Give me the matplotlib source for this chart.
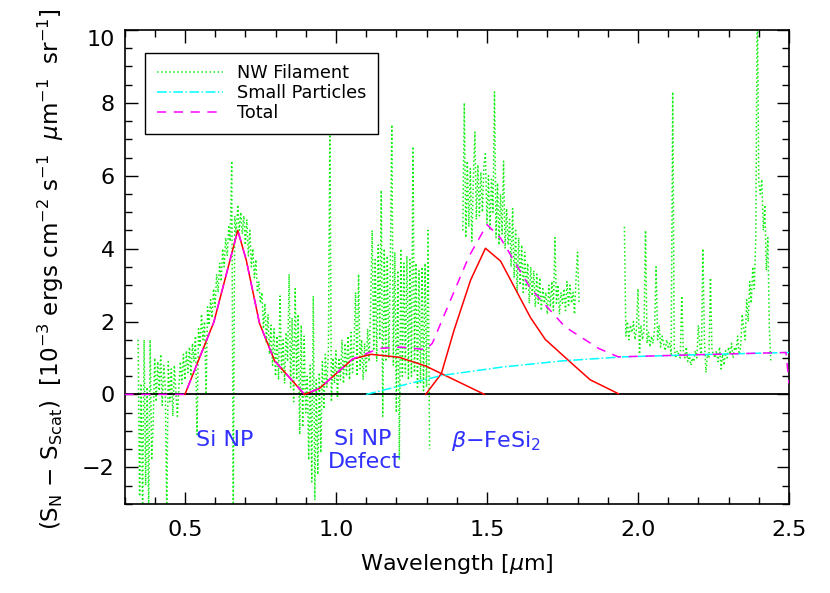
import numpy as np
import matplotlib
matplotlib.use('Agg')
import matplotlib.pyplot as plt
from matplotlib.ticker import MultipleLocator, FormatStrFormatter

# ── NW filament spectrum (three pieces, gaps at the water bands) ─────────────
nw_x1_start, nw_step = 0.345, 0.005
nw_y1 = [
    1.5, -2.8, 0.3, -3.2, 1.5, -2.5, 0.2, -3.1, 1.5, -1.8,
    -0.8, 1.0, -0.2, 0.9, 0.1, 1.1, -0.3, 0.8, 0.2, -3.2,
    0.9, -0.2, 0.7, -0.6, 0.8, 0.1, -0.6, 0.2, 0.9, 0.3,
    1.1, 0.4, 1.2, 0.6, 1.3, 0.5, 1.4, 0.9, 1.6, -1.1,
    1.8, 1.3, 2.2, 1.5, 2.0, 0.0, 2.4, 1.9, 2.6, 2.1,
    2.9, 2.4, 3.3, 2.8, 3.6, 3.1, 4.0, 3.5, 4.3, 3.8,
    4.6, 4.2, 6.4, -3.2, 4.9, 4.4, 5.2, 4.5, 5.0, 4.4,
    4.9, 4.1, 4.8, 3.8, 4.5, 3.5, 4.0, 3.2, 3.7, 2.8,
    3.1, 2.5, 2.8, 1.8, 2.5, 1.4, 2.2, 1.1, 1.9, 0.8,
    1.8, 0.5, 1.6, 0.4, 2.7, 0.6, 1.5, 0.3, 1.7, 0.9,
    3.3, 0.2, 2.1, -0.2, 2.9, 0.4, 2.2, -1.1, 1.9, -0.9,
    1.6, -0.5, 0.5, -1.8, 0.8, -2.4, 2.7, -2.9, 0.4, -2.2,
    0.6, -1.6, 0.9, -0.4, 1.1, 0.2, 1.2, 7.3, -0.2, 1.0,
    0.3, 1.2, -0.1, 1.0, 0.4, 1.5, 0.3, 1.4, 0.5, 1.6,
    0.4, 1.7, 0.6, 1.4, 2.8, 0.5, 3.3, 0.7, 1.5, 0.4,
    1.4, 0.6, 1.8, 0.9, 2.5, 4.5, 1.2, 3.7, 0.9, 4.1,
    1.5, 5.6, -0.6, 4.0, 0.9, 3.8, 1.0, 3.5, 7.4, 0.8,
    3.9, -0.5, 3.4, -1.8, 4.0, 0.5, 3.6, 0.6, 3.8, 0.4,
    3.7, 0.5, 6.8, 0.6, 3.6, 0.2, 3.4, 0.3, 3.5, 0.1,
    3.6, 0.2, 4.5, -1.5,
]
nw_x2_start = 1.420
nw_y2 = [
    4.5, 8.0, 4.3, 6.4, 4.6, 6.2, 4.2, 5.9, 7.2, 4.8,
    6.3, 4.9, 6.1, 5.0, 6.3, 6.6, 4.7, 6.0, 4.5, 5.9,
    5.0, 8.3, 4.3, 5.8, 4.1, 5.5, 4.4, 6.4, 4.0, 5.1,
    4.1, 4.8, 3.5, 5.1, 3.2, 4.5, 2.8, 4.3, 3.0, 4.1,
    2.8, 3.9, 2.9, 3.6, 2.5, 3.5, 2.7, 3.4, 2.4, 3.3,
    2.5, 3.2, 2.3, 2.9, 2.5, 2.8, 2.2, 3.0, 2.4, 3.1,
    2.3, 4.3, 2.5, 3.0, 2.2, 2.8, 2.5, 2.9, 2.3, 3.1,
    2.4, 3.0, 2.5, 2.8, 2.2, 3.2, 3.9, 2.5,
]
nw_x3_start = 1.955
nw_y3 = [
    4.6, 1.6, 2.0, 1.5, 1.9, 1.7, 2.0, 1.5, 1.8, 2.9,
    1.1, 1.9, 1.5, 1.8, 4.5, 1.4, 1.7, 1.3, 1.6, 1.4,
    1.8, 3.5, 1.5, 1.9, 1.3, 1.6, 1.4, 1.2, 1.5, 1.3,
    1.4, 1.1, 8.3, 1.3, 1.0, 1.2, 1.1, 1.0, 2.7, 1.2,
    1.0, 1.3, 0.9, 1.1, 0.8, 1.0, 0.9, 1.2, 1.0, 1.9,
    1.3, 1.1, 4.0, 1.5, 0.6, 1.1, 1.0, 3.2, 1.2, 1.1,
    1.0, 1.2, 0.9, 1.3, 0.7, 1.1, 0.8, 1.2, 1.0, 1.3,
    1.1, 1.4, 1.0, 1.3, 1.2, 1.6, 1.1, 1.3, 2.2, 1.8,
    1.5, 2.6, 2.0, 3.1, 2.5, 3.5, 2.9, 4.3, 11.0, 5.8,
    5.5, 5.9, 4.5, 5.2, 3.4, 4.3, 1.8, 0.9,
]

# ── fitted components ────────────────────────────────────────────────────────
sinp_x = [0.50, 0.596, 0.675, 0.703, 0.747, 0.797, 0.896]
sinp_y = [0.0, 1.99, 4.50, 3.69, 1.95, 0.92, 0.0]

defect_x = [0.896, 0.945, 1.055, 1.116, 1.209, 1.297, 1.492]
defect_y = [0.0, 0.16, 0.97, 1.10, 1.02, 0.78, 0.0]

fesi_x = [1.297, 1.349, 1.391, 1.446, 1.495, 1.545, 1.644, 1.693, 1.781, 1.842, 1.935]
fesi_y = [0.0, 0.57, 1.76, 3.14, 4.01, 3.66, 2.11, 1.51, 0.85, 0.40, 0.02]

small_x = [1.10, 1.35, 1.55, 1.75, 1.95, 2.20, 2.50]
small_y = [0.0, 0.52, 0.75, 0.92, 1.03, 1.09, 1.15]

total_x = [0.30, 0.50, 0.596, 0.675, 0.703, 0.747, 0.797, 0.896, 0.945, 1.055,
           1.143, 1.215, 1.297, 1.319, 1.44, 1.50, 1.545, 1.644, 1.759, 1.87,
           1.935, 2.20, 2.49, 2.50]
total_y = [0.0, 0.0, 1.99, 4.50, 3.69, 1.95, 0.92, 0.0, 0.16, 0.97,
           1.26, 1.30, 1.23, 1.40, 3.78, 4.66, 4.29, 2.91, 1.85, 1.26,
           1.03, 1.09, 1.15, 0.30]

y_ticks = [-2, 0, 2, 4, 6, 8, 10]


def grid(start, n):
    return start + nw_step * np.arange(n)


fig = plt.figure(figsize=(8.3, 5.93), dpi=100)
ax = fig.add_axes([0.150, 0.1505, 0.8006, 0.799])

GREEN = '#11ee11'
g_kw = dict(color=GREEN, ls=':', lw=1.1, zorder=1)
ax.plot(grid(nw_x1_start, len(nw_y1)), nw_y1, label='NW Filament', **g_kw)
ax.plot(grid(nw_x2_start, len(nw_y2)), nw_y2, **g_kw)
ax.plot(grid(nw_x3_start, len(nw_y3)), nw_y3, **g_kw)

ax.axhline(0, color='black', lw=1.3, zorder=2)

ax.plot(sinp_x, sinp_y, color='red', lw=1.1, zorder=3)
ax.plot(defect_x, defect_y, color='red', lw=1.1, zorder=3)
ax.plot(fesi_x, fesi_y, color='red', lw=1.1, zorder=3)
ax.plot(small_x, small_y, color='#00ffff', ls='-.', lw=1.1, zorder=4,
        label='Small Particles')
ax.plot(total_x, total_y, color='#ff00ff', ls=(0, (6, 5)), lw=1.1, zorder=5,
        label='Total')

# ── component labels ─────────────────────────────────────────────────────────
BLUE = '#3030ff'
ax.text(0.631, -1.25, 'Si NP', color=BLUE, fontsize=16, ha='center', va='center')
ax.text(1.09, -1.22, 'Si NP', color=BLUE, fontsize=16, ha='center', va='center')
ax.text(1.094, -1.86, 'Defect', color=BLUE, fontsize=16, ha='center', va='center')
ax.text(1.38, -1.28, r'$\beta$$-$FeSi$_2$', color=BLUE, fontsize=16,
        ha='left', va='center')

# ── axes ─────────────────────────────────────────────────────────────────────
ax.set_xlim(0.3, 2.5)
ax.set_ylim(-3, 10)
ax.xaxis.set_major_locator(MultipleLocator(0.5))
ax.xaxis.set_minor_locator(MultipleLocator(0.1))
ax.set_yticks(y_ticks)
ax.yaxis.set_minor_locator(MultipleLocator(0.5))
ax.xaxis.set_major_formatter(FormatStrFormatter('%.1f'))
ax.tick_params(which='both', direction='in', top=True, right=True, width=1)
ax.tick_params(which='major', length=9, labelsize=16)
ax.tick_params(which='minor', length=5)
ax.tick_params(axis='x', which='major', pad=12)
ax.tick_params(axis='y', which='major', pad=7)
for sp in ax.spines.values():
    sp.set_linewidth(1.2)
# IDL drops the top label inside the frame
ax.yaxis.get_major_ticks()[-1].label1.set_va('top')

ax.set_xlabel(r'Wavelength [$\mu$m]', fontsize=16, labelpad=8)
ax.set_ylabel(r'(S$_\mathrm{N}$ $-$ S$_\mathrm{Scat}$)  [10$^{-3}$ ergs cm$^{-2}$ '
              r's$^{-1}$  $\mu$m$^{-1}$  sr$^{-1}$]', fontsize=16.6)
ax.yaxis.set_label_coords(-0.088, 0.495)

leg = ax.legend(loc='upper left', bbox_to_anchor=(0.031, 0.952), borderaxespad=0,
                fontsize=12.7, fancybox=False, edgecolor='black', framealpha=1,
                handlelength=3.75, handletextpad=0.8, labelspacing=0.12,
                borderpad=0.65)
leg.get_frame().set_linewidth(1.0)

fig.savefig('out.png', dpi=100)
